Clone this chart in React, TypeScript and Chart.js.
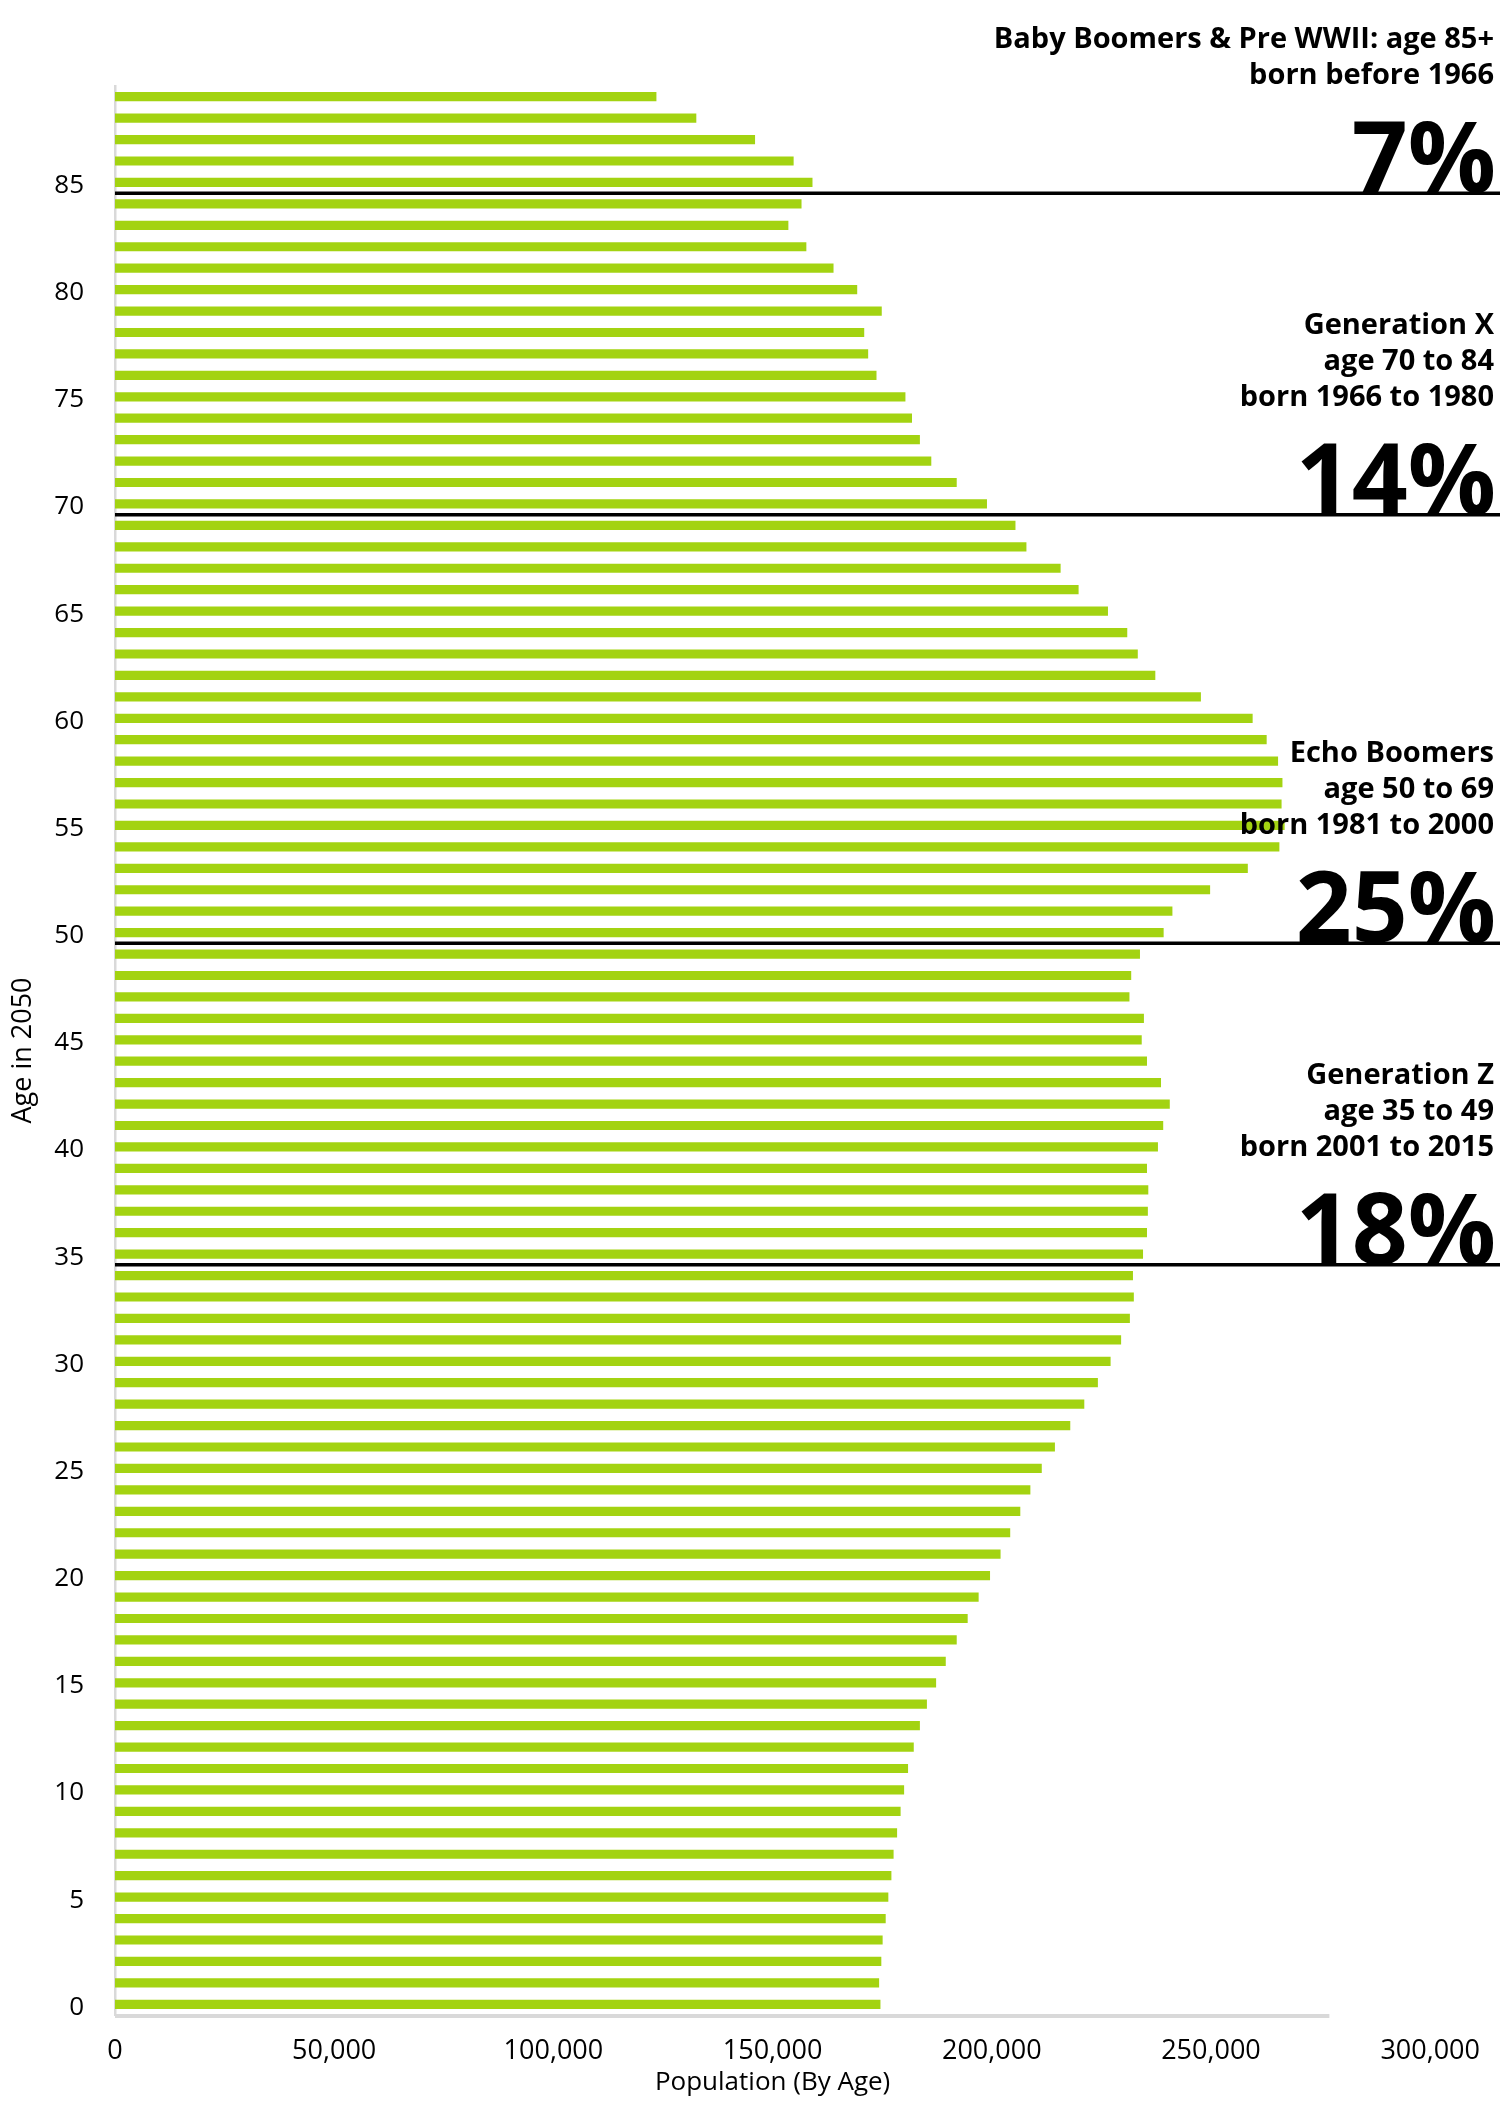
import React, { useEffect, useRef } from 'react';
import { Chart, registerables } from 'chart.js';

Chart.register(...registerables);

// ages (categories), bottom to top
const AGES = [
  0, 1, 2, 3, 4, 5, 6, 7, 8, 9,
  10, 11, 12, 13, 14, 15, 16, 17, 18, 19,
  20, 21, 22, 23, 24, 25, 26, 27, 28, 29,
  30, 31, 32, 33, 34, 35, 36, 37, 38, 39,
  40, 41, 42, 43, 44, 45, 46, 47, 48, 49,
  50, 51, 52, 53, 54, 55, 56, 57, 58, 59,
  60, 61, 62, 63, 64, 65, 66, 67, 68, 69,
  70, 71, 72, 73, 74, 75, 76, 77, 78, 79,
  80, 81, 82, 83, 84, 85, 86, 87, 88, 89,
];

// population by age, same order as AGES
const POPULATION = [
  174600, 174300, 174800, 175100, 175800, 176400, 177100, 177600, 178400, 179200,
  180000, 180900, 182200, 183600, 185200, 187300, 189500, 192000, 194500, 197000,
  199600, 202000, 204200, 206500, 208800, 211400, 214400, 217900, 221100, 224200,
  227100, 229500, 231500, 232400, 232200, 234500, 235400, 235600, 235700, 235400,
  237900, 239100, 240600, 238600, 235400, 234200, 234700, 231400, 231800, 233800,
  239200, 241200, 249800, 258400, 265600, 266800, 266100, 266300, 265300, 262700,
  259500, 247700, 237300, 233300, 230900, 226500, 219800, 215700, 207900, 205400,
  198900, 192000, 186200, 183600, 181800, 180300, 173700, 171800, 170900, 174900,
  169300, 163900, 157700, 153600, 156600, 159100, 154800, 146000, 132600, 123500,
];

const Y_TICK_AGES = [0, 5, 10, 15, 20, 25, 30, 35, 40, 45, 50, 55, 60, 65, 70, 75, 80, 85];
const X_MIN = 0;
const X_MAX = 300000;
const X_STEP = 50000;
const AXIS_LINE_END = 277000; // the grey base line stops short of the last tick

// generation blocks (top to bottom): first age of each block, caption, share
const GROUP_FIRST_AGE = [85, 70, 50, 35];
const GROUP_LINES = [
  ['Baby Boomers & Pre WWII: age 85+', 'born before 1966'],
  ['Generation X', 'age 70 to 84', 'born 1966 to 1980'],
  ['Echo Boomers', 'age 50 to 69', 'born 1981 to 2000'],
  ['Generation Z', 'age 35 to 49', 'born 2001 to 2015'],
];
const GROUP_SHARE = ['7%', '14%', '25%', '18%'];

const FONT = "'Open Sans', 'Noto Sans', sans-serif";
const BAR_COLOR = '#a3d311';

const generationPlugin = {
  id: 'generations',
  beforeDatasetsDraw(chart: any) {
    const { ctx, chartArea, scales } = chart;
    ctx.save();
    ctx.strokeStyle = '#d9d9d9';
    ctx.lineWidth = 4;
    ctx.beginPath();
    ctx.moveTo(chartArea.left, chartArea.bottom + 1);
    ctx.lineTo(scales.x.getPixelForValue(AXIS_LINE_END), chartArea.bottom + 1);
    ctx.stroke();
    ctx.restore();
  },
  afterDatasetsDraw(chart: any) {
    const { ctx, chartArea, scales } = chart;
    const y = scales.y;
    const textRight = chart.width - 6;
    GROUP_FIRST_AGE.forEach((age, i) => {
      const a = y.getPixelForValue(AGES.indexOf(age));
      const b = y.getPixelForValue(AGES.indexOf(age - 1));
      const lineY = (a + b) / 2;
      ctx.save();
      ctx.strokeStyle = '#000';
      ctx.lineWidth = 3.5;
      ctx.beginPath();
      ctx.moveTo(chartArea.left, lineY);
      ctx.lineTo(chart.width, lineY);
      ctx.stroke();

      ctx.fillStyle = '#000';
      ctx.textAlign = 'right';
      ctx.textBaseline = 'alphabetic';
      ctx.font = `700 98px ${FONT}`;
      ctx.fillText(GROUP_SHARE[i], textRight + 2, lineY - 1);

      const lines = GROUP_LINES[i];
      const lastBase = lineY - 109;
      ctx.font = `700 29px ${FONT}`;
      lines.forEach((t, j) => {
        ctx.fillText(t, textRight, lastBase - (lines.length - 1 - j) * 36);
      });
      ctx.restore();
    });
  },
};

export default function App() {
  const canvasRef = useRef<HTMLCanvasElement | null>(null);

  useEffect(() => {
    const canvas = canvasRef.current;
    if (!canvas) return;

    const chart = new Chart(canvas, {
      type: 'bar',
      data: {
        labels: AGES.map(String),
        datasets: [
          {
            data: POPULATION,
            backgroundColor: BAR_COLOR,
            borderWidth: 0,
            barPercentage: 0.43,
            categoryPercentage: 1,
          },
        ],
      },
      options: {
        indexAxis: 'y',
        animation: false,
        responsive: true,
        maintainAspectRatio: false,
        layout: { padding: { top: 86, right: 65, left: 0, bottom: 0 } },
        plugins: {
          legend: { display: false },
          tooltip: { enabled: false },
        },
        scales: {
          y: {
            reverse: true,
            grid: { display: false, drawTicks: false },
            border: { display: true, color: '#d9d9d9', width: 2.5 },
            ticks: {
              autoSkip: false,
              padding: 31,
              labelOffset: 3,
              color: '#000',
              font: { family: FONT, size: 26 },
              callback: (v: any) => (Y_TICK_AGES.includes(AGES[v]) ? String(AGES[v]) : ''),
            },
            title: {
              display: true,
              text: 'Age in 2050',
              color: '#000',
              font: { family: FONT, size: 27 },
              padding: { top: 7, bottom: 0 },
            },
            afterFit: (scale: any) => {
              scale.width = 115;
            },
          },
          x: {
            type: 'linear',
            min: X_MIN,
            max: X_MAX,
            grid: { display: false, drawTicks: false },
            border: { display: false },
            ticks: {
              stepSize: X_STEP,
              autoSkip: false,
              maxRotation: 0,
              padding: 20,
              color: '#000',
              font: { family: FONT, size: 27 },
              callback: (v: any) => Number(v).toLocaleString('en-US'),
            },
            title: {
              display: true,
              text: 'Population (By Age)',
              color: '#000',
              font: { family: FONT, size: 26 },
              padding: { top: 0, bottom: 4 },
            },
            afterFit: (scale: any) => {
              scale.height = 87;
            },
          },
        },
      },
      plugins: [generationPlugin],
    });

    return () => {
      chart.destroy();
    };
  }, []);

  return (
    <div style={{ position: 'absolute', left: 0, top: 0, width: 1500, height: 2102, background: '#fff' }}>
      <canvas ref={canvasRef} />
    </div>
  );
}
